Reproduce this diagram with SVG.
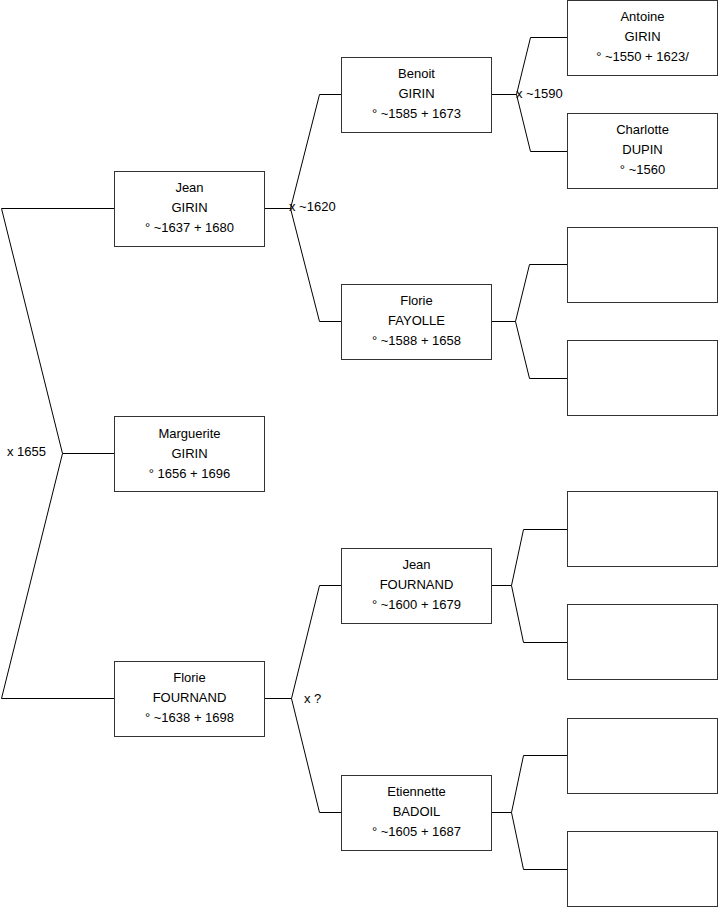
<svg xmlns="http://www.w3.org/2000/svg" width="719" height="908" viewBox="0 0 719 908">
<style>
.box{fill:#fff;stroke:#333;stroke-width:1}
.ln{fill:none;stroke:#000;stroke-width:1}
text{font-family:"Liberation Sans",Arial,sans-serif;font-size:13px;fill:#000}
.c{text-anchor:middle}
</style>
<rect width="719" height="908" fill="#fff"/>
<g id="connectors">
<polyline class="ln" points="114.5,208.5 1.5,208.5 62.5,453.5 1.5,698.5 114.5,698.5"/>
<line class="ln" x1="62.5" y1="453.5" x2="114.5" y2="453.5"/>
<line class="ln" x1="264.5" y1="208.5" x2="290.5" y2="208.5"/>
<polyline class="ln" points="341.5,94.5 319.5,94.5 290.5,208.5 319.5,321.5 341.5,321.5"/>
<line class="ln" x1="491.5" y1="94.5" x2="516.5" y2="94.5"/>
<polyline class="ln" points="567.5,37.5 530.5,37.5 516.5,94.5 530.5,151.5 567.5,151.5"/>
<line class="ln" x1="491.5" y1="321.5" x2="515.5" y2="321.5"/>
<polyline class="ln" points="567.5,264.5 529.5,264.5 515.5,321.5 529.5,378.5 567.5,378.5"/>
<line class="ln" x1="264.5" y1="698.5" x2="291.5" y2="698.5"/>
<polyline class="ln" points="341.5,585.5 319.5,585.5 291.5,698.5 319.5,812.5 341.5,812.5"/>
<line class="ln" x1="491.5" y1="585.5" x2="511.5" y2="585.5"/>
<polyline class="ln" points="567.5,529.5 523.5,529.5 511.5,585.5 523.5,642.5 567.5,642.5"/>
<line class="ln" x1="491.5" y1="812.5" x2="511.5" y2="812.5"/>
<polyline class="ln" points="567.5,755.5 523.5,755.5 511.5,812.5 523.5,869.5 567.5,869.5"/>
<text x="7" y="456">x 1655</text>
<text x="289" y="211">x ~1620</text>
<text x="516" y="98">x ~1590</text>
<text x="304" y="703">x ?</text>
</g>
<g id="jean-girin">
<rect class="box" x="114.5" y="171.5" width="150" height="75"/>
<text class="c" x="189.5" y="191.5">Jean</text>
<text class="c" x="189.5" y="211.5">GIRIN</text>
<text class="c" x="189.5" y="231.5">° ~1637 + 1680</text>
</g>
<g id="marguerite-girin">
<rect class="box" x="114.5" y="416.5" width="150" height="75"/>
<text class="c" x="189.5" y="438">Marguerite</text>
<text class="c" x="189.5" y="458">GIRIN</text>
<text class="c" x="189.5" y="478">° 1656 + 1696</text>
</g>
<g id="florie-fournand">
<rect class="box" x="114.5" y="661.5" width="150" height="75"/>
<text class="c" x="189.5" y="682">Florie</text>
<text class="c" x="189.5" y="702">FOURNAND</text>
<text class="c" x="189.5" y="722">° ~1638 + 1698</text>
</g>
<g id="benoit-girin">
<rect class="box" x="341.5" y="57.5" width="150" height="75"/>
<text class="c" x="416.5" y="78">Benoit</text>
<text class="c" x="416.5" y="98">GIRIN</text>
<text class="c" x="416.5" y="118">° ~1585 + 1673</text>
</g>
<g id="florie-fayolle">
<rect class="box" x="341.5" y="284.5" width="150" height="75"/>
<text class="c" x="416.5" y="305">Florie</text>
<text class="c" x="416.5" y="325">FAYOLLE</text>
<text class="c" x="416.5" y="345">° ~1588 + 1658</text>
</g>
<g id="jean-fournand">
<rect class="box" x="341.5" y="548.5" width="150" height="75"/>
<text class="c" x="416.5" y="569">Jean</text>
<text class="c" x="416.5" y="589">FOURNAND</text>
<text class="c" x="416.5" y="609">° ~1600 + 1679</text>
</g>
<g id="etiennette-badoil">
<rect class="box" x="341.5" y="775.5" width="150" height="75"/>
<text class="c" x="416.5" y="796">Etiennette</text>
<text class="c" x="416.5" y="816">BADOIL</text>
<text class="c" x="416.5" y="836">° ~1605 + 1687</text>
</g>
<g id="antoine-girin">
<rect class="box" x="567.5" y="0.5" width="150" height="75"/>
<text class="c" x="642.5" y="21">Antoine</text>
<text class="c" x="642.5" y="41">GIRIN</text>
<text class="c" x="642.5" y="61">° ~1550 + 1623/</text>
</g>
<g id="charlotte-dupin">
<rect class="box" x="567.5" y="113.5" width="150" height="75"/>
<text class="c" x="642.5" y="134">Charlotte</text>
<text class="c" x="642.5" y="154">DUPIN</text>
<text class="c" x="642.5" y="174">° ~1560</text>
</g>
<g id="empty-1"><rect class="box" x="567.5" y="227.5" width="150" height="75"/></g>
<g id="empty-2"><rect class="box" x="567.5" y="340.5" width="150" height="75"/></g>
<g id="empty-3"><rect class="box" x="567.5" y="491.5" width="150" height="75"/></g>
<g id="empty-4"><rect class="box" x="567.5" y="604.5" width="150" height="75"/></g>
<g id="empty-5"><rect class="box" x="567.5" y="718.5" width="150" height="75"/></g>
<g id="empty-6"><rect class="box" x="567.5" y="831.5" width="150" height="75"/></g>
</svg>
